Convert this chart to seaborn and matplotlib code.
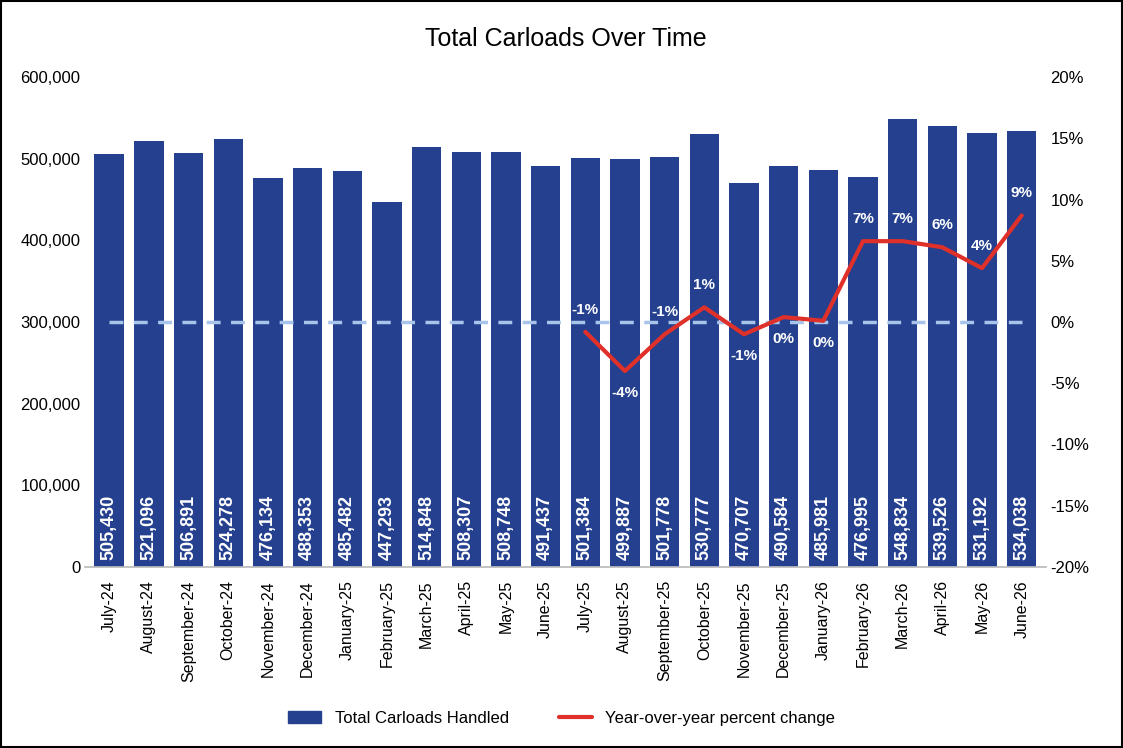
import matplotlib
matplotlib.use("Agg")
import matplotlib.pyplot as plt
import seaborn as sns
import numpy as np
import pandas as pd

months = ["July-24","August-24","September-24","October-24","November-24","December-24","January-25","February-25","March-25","April-25","May-25","June-25","July-25","August-25","September-25","October-25","November-25","December-25","January-26","February-26","March-26","April-26","May-26","June-26"]
carloads = [505430,521096,506891,524278,476134,488353,485482,447293,514848,508307,508748,491437,501384,499887,501778,530777,470707,490584,485981,476995,548834,539526,531192,534038]
yoy = [None]*12 + [-0.8,-4.0,-1.0,1.2,-1.0,0.4,0.1,6.6,6.6,6.1,4.4,8.7]
yoy_labels = [None]*12 + ["-1%","-4%","-1%","1%","-1%","0%","0%","7%","7%","6%","4%","9%"]
label_above = [None]*12 + [True,False,True,True,False,False,False,True,True,True,True,True]

sns.set_theme(style="white")
plt.rcParams['font.family'] = ['Liberation Sans', 'DejaVu Sans']
plt.rcParams['text.color'] = 'black'
plt.rcParams['xtick.color'] = 'black'
plt.rcParams['ytick.color'] = 'black'
fig = plt.figure(figsize=(11.23,7.48), dpi=100)
ax = fig.add_axes([0.076,0.242,0.855,0.655])
df = pd.DataFrame({"month":months,"val":carloads})
sns.barplot(data=df, x="month", y="val", color="#24408E", saturation=1, width=0.74, ax=ax, edgecolor="none", linewidth=0)
ax.set_ylim(0,600000)
ax.set_yticks(np.arange(0,600001,100000))
ax.set_yticklabels([f"{v:,}" for v in range(0,600001,100000)], fontsize=12)
ax.set_xlabel(""); ax.set_ylabel("")
ax.tick_params(axis='x', rotation=90, labelsize=11.5)
ax.tick_params(axis='y', length=0)
for i,v in enumerate(carloads):
    ax.text(i, 8000, f"{v:,}", rotation=90, color="white", fontweight="bold", fontsize=13, ha="center", va="bottom")
for s in ax.spines.values(): s.set_visible(False)
ax.spines['bottom'].set_visible(True); ax.spines['bottom'].set_color("#bbbbbb")

ax2 = ax.twinx()
ax2.set_ylim(-20,20)
ax2.set_yticks(np.arange(-20,21,5))
ax2.set_yticklabels([f"{t}%" for t in range(-20,21,5)], fontsize=12)
ax2.tick_params(axis='y', length=0)
for s in ax2.spines.values(): s.set_visible(False)
ax2.plot([0,len(months)-1],[0,0], ls=(0,(4,3)), color="#A9C4EB", lw=2.5)
xs = [i for i,v in enumerate(yoy) if v is not None]
ys = [v for v in yoy if v is not None]
ax2.plot(xs, ys, color="#E0302A", lw=3, label="Year-over-year percent change")
for i in xs:
    off = 1.8 if label_above[i] else -1.8
    ax2.text(i, yoy[i]+off, yoy_labels[i], color="white", fontweight="bold", fontsize=11, ha="center", va="center")
ax.set_xlim(-0.6, len(months)-0.4)
ax.set_title("Total Carloads Over Time", fontsize=18, pad=22)
h1 = [plt.Rectangle((0,0),1,1,color="#24408E")]
h2,l2 = ax2.get_legend_handles_labels()
fig.legend(h1+h2, ["Total Carloads Handled"]+l2, loc="lower center", bbox_to_anchor=(0.5,0.01), ncol=2, frameon=False, fontsize=12, columnspacing=3)
fig.patches.append(plt.Rectangle((0.001,0.001),0.998,0.998, transform=fig.transFigure, fill=False, edgecolor="black", lw=1.5))
fig.savefig("out.png", dpi=100)
